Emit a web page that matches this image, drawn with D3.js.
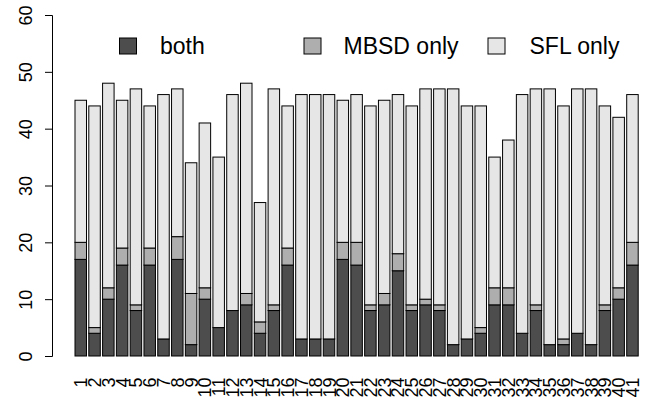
<!DOCTYPE html>
<html>
<head>
<meta charset="utf-8">
<script src="https://cdn.jsdelivr.net/npm/d3@7"></script>
<style>
  html, body { margin: 0; padding: 0; background: #fff; }
  svg { display: block; font-family: "Liberation Sans", Arial, Helvetica, sans-serif; }
</style>
</head>
<body>
<svg id="chart" width="651" height="401"></svg>
<script>
// ---- data ----
const categories = d3.range(1, 42).map(String);
const both     = [17,4,10,16,8,16,3,17,2,10,5,8,9,4,8,16,3,3,3,17,16,8,9,15,8,9,8,2,3,4,9,9,4,8,2,2,4,2,8,10,16];
const mbsdOnly = [3,1,2,3,1,3,0,4,9,2,0,0,2,2,1,3,0,0,0,3,4,1,2,3,1,1,1,0,0,1,3,3,0,1,0,1,0,0,1,2,4];
const sflOnly  = [25,39,36,26,38,25,43,26,23,29,30,38,37,21,38,25,43,43,43,25,26,35,34,28,35,37,38,45,41,39,23,26,42,38,45,41,43,45,35,30,26];
const seriesNames = ["both", "MBSD only", "SFL only"];
const seriesKeys = ["both", "mbsd", "sfl"];
const yTicks = [0, 10, 20, 30, 40, 50, 60];

// ---- layout ----
const colors = ["#4D4D4D", "#AEAEAE", "#E6E6E6"];
const svg = d3.select("#chart");

const table = categories.map((c, i) => ({ cat: c, both: both[i], mbsd: mbsdOnly[i], sfl: sflOnly[i] }));
const stacked = d3.stack().keys(seriesKeys)(table);

const x = d3.scaleBand()
  .domain(categories)
  .range([75, 638.2])
  .paddingInner(1 / 6)
  .paddingOuter(0);

const y = d3.scaleLinear().domain([0, 60]).range([356, 15]);

// bars
svg.append("g")
  .selectAll("g")
  .data(stacked)
  .join("g")
  .attr("fill", (d, i) => colors[i])
  .selectAll("rect")
  .data(d => d)
  .join("rect")
  .attr("x", d => x(d.data.cat))
  .attr("width", x.bandwidth())
  .attr("y", d => y(d[1]))
  .attr("height", d => y(d[0]) - y(d[1]))
  .attr("stroke", "#000")
  .attr("stroke-width", 1);

// y axis
const yAxis = svg.append("g")
  .attr("transform", "translate(52,0)")
  .call(d3.axisLeft(y).tickValues(yTicks).tickSizeOuter(0).tickSize(7).tickFormat(d3.format("d")));
yAxis.select(".domain").attr("stroke", "#000").attr("stroke-width", 1);
yAxis.selectAll(".tick line").attr("stroke", "#000").attr("stroke-width", 1);
yAxis.selectAll(".tick text")
  .attr("transform", "rotate(-90)")
  .attr("x", 0)
  .attr("y", -20.5)
  .attr("dy", 0)
  .attr("text-anchor", "middle")
  .attr("fill", "#000")
  .style("font-size", "18px")
  .style("font-family", "'Liberation Sans', Arial, sans-serif");

// x axis labels
const xAxis = svg.append("g")
  .attr("transform", "translate(0,377.5)")
  .call(d3.axisBottom(x).tickSize(0).tickSizeOuter(0));
xAxis.select(".domain").remove();
xAxis.selectAll(".tick text")
  .attr("transform", "rotate(-90)")
  .attr("x", 0)
  .attr("y", 6.5)
  .attr("dy", 0)
  .attr("text-anchor", "end")
  .attr("fill", "#000")
  .style("font-size", "18px")
  .style("font-family", "'Liberation Sans', Arial, sans-serif");

// legend
const legendBoxX = [119.5, 304, 488];
const legendTextX = [160, 343.5, 529.5];
const legend = svg.append("g");
seriesNames.forEach((name, i) => {
  legend.append("rect")
    .attr("x", legendBoxX[i])
    .attr("y", 38)
    .attr("width", 17)
    .attr("height", 16)
    .attr("fill", colors[i])
    .attr("stroke", "#000")
    .attr("stroke-width", 1);
  legend.append("text")
    .attr("x", legendTextX[i])
    .attr("y", 54.3)
    .attr("fill", "#000")
    .style("font-size", "23px")
    .text(name);
});
</script>
</body>
</html>
